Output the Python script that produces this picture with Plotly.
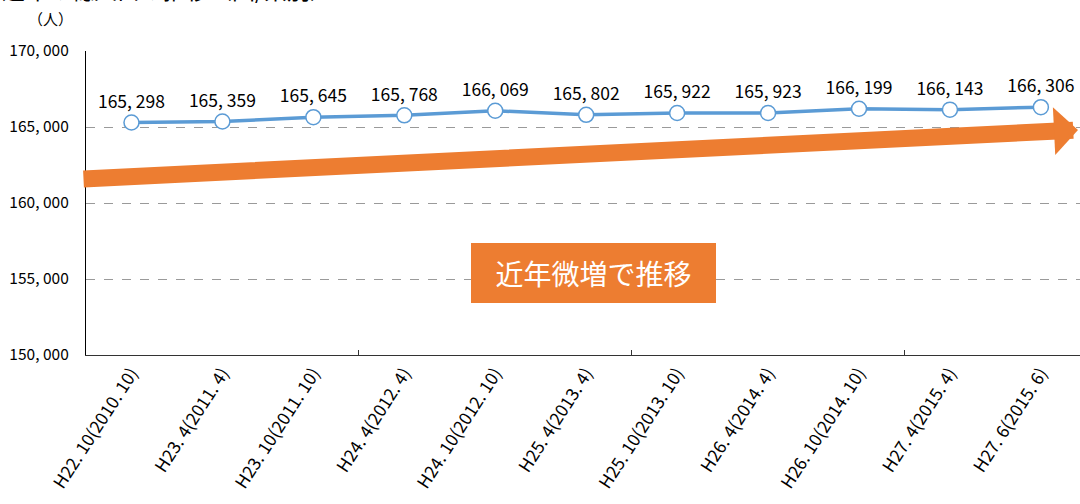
import plotly.graph_objects as go

categories = ["H22. 10(2010. 10)", "H23. 4(2011. 4)", "H23. 10(2011. 10)", "H24. 4(2012. 4)",
              "H24. 10(2012. 10)", "H25. 4(2013. 4)", "H25. 10(2013. 10)", "H26. 4(2014. 4)",
              "H26. 10(2014. 10)", "H27. 4(2015. 4)", "H27. 6(2015. 6)"]
population = [165298, 165359, 165645, 165768, 166069, 165802, 165922, 165923, 166199, 166143, 166306]
y_ticks = [150000, 155000, 160000, 165000, 170000]
y_ticktext = [f"{v:,}".replace(",", ", ") for v in y_ticks]
labels = [f"{v:,}".replace(",", ", ") for v in population]

FONT = "Noto Sans CJK JP"
BLUE = "#5B9BD5"
ORANGE = "#ED7D31"

W, H = 1080, 504
L, R, T, B = 86, 0, 51, 149
pw, ph = W - L - R, H - T - B

def px(xp):
    return (xp - L) / pw

def py(yp):
    return (H - B - yp) / ph

idx = list(range(len(categories)))

fig = go.Figure()
fig.add_trace(go.Scatter(
    x=idx, y=population, mode="lines+markers+text",
    line=dict(color=BLUE, width=3.5),
    marker=dict(symbol="circle", size=15, color="white", line=dict(color=BLUE, width=1.5)),
    text=labels, textposition="top center",
    textfont=dict(family=FONT, size=17.5, color="black"),
    cliponaxis=False, showlegend=False, hoverinfo="skip",
))

annotations = [
    # clipped title at top
    dict(text="近年の総人口の推移（国/県別）", xref="paper", yref="paper",
         x=px(0), y=py(-11), xanchor="left", yanchor="middle", showarrow=False,
         font=dict(family=FONT, size=23, color="black")),
    dict(text="（人）", xref="paper", yref="paper", x=px(50), y=py(19),
         xanchor="center", yanchor="middle", showarrow=False,
         font=dict(family=FONT, size=15, color="black")),
    # orange arrow
    dict(text="", xref="paper", yref="paper", x=px(1078), y=py(130),
         axref="pixel", ayref="pixel", ax=82 - 1078, ay=179 - 130,
         showarrow=True, arrowhead=1, arrowsize=0.47, arrowwidth=17,
         arrowcolor=ORANGE, standoff=0, startstandoff=0),
    # text box
    dict(text="近年微増で推移", xref="paper", yref="paper", x=px(593.5), y=py(273),
         xanchor="center", yanchor="middle", showarrow=False,
         width=245, height=60, bgcolor=ORANGE, borderpad=0, borderwidth=0,
         font=dict(family=FONT, size=28, color="white")),
]

fig.update_layout(
    width=W, height=H,
    margin=dict(l=L, r=R, t=T, b=B, autoexpand=False),
    paper_bgcolor="white", plot_bgcolor="white",
    annotations=annotations,
    xaxis=dict(
        range=[-0.5, 10.43], tickmode="array", tickvals=idx, ticktext=categories,
        tickangle=-57, ticks="", showgrid=False, zeroline=False, automargin=False,
        showline=True, linecolor="#333333", linewidth=1.3,
        tickfont=dict(family=FONT, size=17.5, color="black"),
        minor=dict(tickmode="array", tickvals=[2.5, 5.5, 8.5], ticks="inside",
                   ticklen=5, tickwidth=1, tickcolor="#333333", showgrid=False),
    ),
    yaxis=dict(
        range=[150000, 170000], tickmode="array", tickvals=y_ticks, ticktext=y_ticktext,
        showgrid=True, gridcolor="#9A9A9A", gridwidth=1, griddash="dash",
        zeroline=False, showline=True, linecolor="black", linewidth=1.3,
        ticks="", ticklabelstandoff=13, automargin=False,
        tickfont=dict(family=FONT, size=15.5, color="black"),
    ),
)

fig.write_html("out.html", config={"displayModeBar": False},
               post_script="document.body.style.margin='0';document.body.style.overflow='hidden';")
